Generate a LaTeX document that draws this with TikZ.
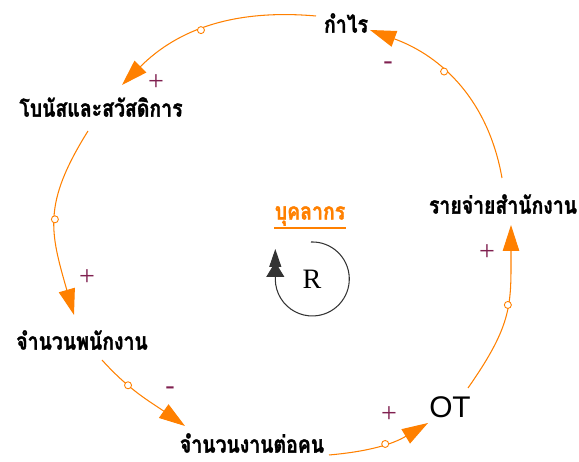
\documentclass[tikz,border=0pt]{standalone}
\usepackage{fontspec}
\setmainfont{Liberation Serif}
\newfontfamily\thaifont[Script=Thai,FakeStretch=0.82,BoldFeatures={FakeBold=1.4}]{Loma}
\newfontfamily\otfont{Liberation Sans}
\usetikzlibrary{arrows.meta}
\definecolor{loopline}{RGB}{255,128,0}
\definecolor{polarity}{RGB}{128,32,80}

\begin{document}
\begin{tikzpicture}[x=0.02cm,y=0.02cm,
  var/.style={font=\thaifont\bfseries\fontsize{13.5}{15}\selectfont,inner sep=2pt},
  link/.style={draw=loopline,line width=0.6pt,-{Triangle[length=0.52cm,width=0.33cm]}},
  dotmark/.style={circle,draw=loopline,fill=white,inner sep=0pt,minimum size=0.14cm,line width=0.5pt},
  polsign/.style={text=polarity,font=\fontsize{16}{16}\selectfont,inner sep=0pt}]
  \useasboundingbox (0,0) rectangle (579,462);
  % variables
  \node[var] (profit) at (346,439) {กำไร};
  \node[var] (bonus) at (101,355) {โบนัสและสวัสดิการ};
  \node[var] (staff) at (82,122) {จำนวนพนักงาน};
  \node[var,inner sep=0pt] (work) at (252,19) {จำนวนงานต่อคน};
  \node[font=\otfont\fontsize{17}{17}\selectfont,inner sep=2pt] (ot) at (450,55) {OT};
  \node[var] (cost) at (503,258) {รายจ่ายสำนักงาน};
  % links
  \draw[link] ([shift={(-30,7)}]profit.center) to[out=175,in=45]
    node[dotmark,pos=0.55]{} ([shift={(21,22)}]bonus.center);
  \draw[link] ([shift={(-1,26)}]cost.center) to[out=100,in=-20]
    node[dotmark,pos=0.6]{} ([shift={(24,-7)}]profit.center);
  \draw[link] ([shift={(-13,-24)}]bonus.center) to[out=238,in=106,looseness=1.2]
    node[dotmark,pos=0.5]{} ([shift={(-8,25)}]staff.center);
  \draw[link] ([shift={(20,-20)}]staff.center) to[out=-48,in=145]
    node[dotmark,pos=0.33]{} ([shift={(-67,17)}]work.center);
  \draw[link] ([shift={(77,-12)}]work.center) to[out=5,in=211]
    node[dotmark,pos=0.55]{} ([shift={(-22,-16)}]ot.center);
  \draw[link] ([shift={(18,19)}]ot.center) to[out=55,in=-90,looseness=1.2]
    node[dotmark,pos=0.55]{} ([shift={(8,-21)}]cost.center);
  % polarities
  \node[polsign] (s1) at (156,379) {+};
  \node[polsign] (s2) at (388,396) {-};
  \node[polsign] (s3) at (87,184) {+};
  \node[polsign] (s4) at (170,71) {-};
  \node[polsign] (s5) at (389,47) {+};
  \node[polsign] (s6) at (487,209) {+};
  % loop
  \node[var,text=loopline] (title) at (310,246) {บุคลากร};
  \coordinate (ul) at (0,234);
  \draw[loopline,line width=1.5pt] ([xshift=2pt]title.west |- ul) -- ([xshift=-2pt]title.east |- ul);
  \node[font=\fontsize{16}{16}\selectfont] (rloop) at (312,183) {R};
  \draw[black!80,line width=0.6pt,-{Triangle[length=0.3cm,width=0.36cm,sep=-0.1cm] Triangle[length=0.36cm,width=0.24cm]}]
    (311,220) arc[start angle=92,end angle=-180,radius=37] -- ++(0,30);
\end{tikzpicture}
\end{document}
